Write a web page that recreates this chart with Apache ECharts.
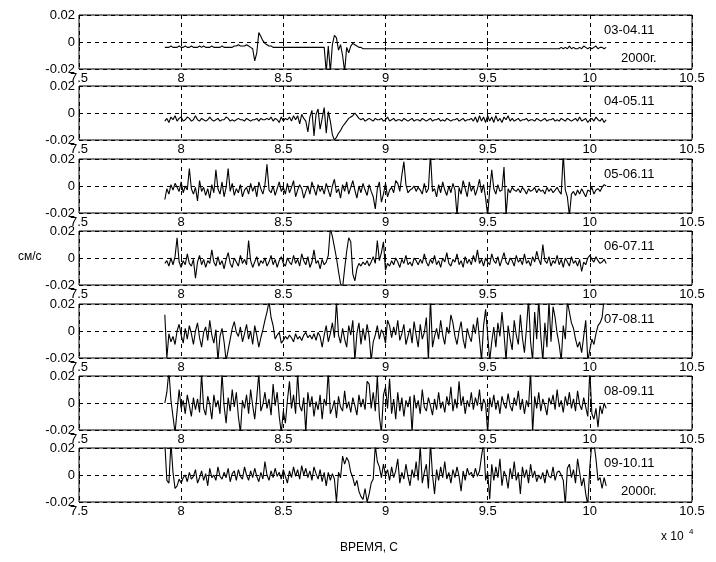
<!DOCTYPE html>
<html>
<head>
<meta charset="utf-8">
<script src="https://cdn.jsdelivr.net/npm/echarts@6/dist/echarts.min.js"></script>
<style>
html,body{margin:0;padding:0;background:#fff;}
#chart{width:716px;height:562px;}
</style>
</head>
<body>
<div id="chart"></div>
<script>
// Sampling: time in seconds, first sample and step
const T0 = 79200;
const DT = 100;

// Tick labels (x axis values in seconds, shown in units of 10^4)
const xTicks = [75000, 80000, 85000, 90000, 95000, 100000, 105000];
const yTicks = [-0.02, 0, 0.02];

// Panel captions
const panelNames = ['03-04.11', '04-05.11', '05-06.11', '06-07.11', '07-08.11', '08-09.11', '09-10.11'];
const yearLabel = '2000г.';

// Velocity series, in units of 10^-3 cm/s
const p1 = [
-4,-4,-4,-3,-4,-4,-4,-3,-4,-4,
-3,-4,-4,-3,-4,-4,-4,-3,-4,-3,
-4,-4,-4,-3,-4,-4,-4,-4,-3,-4,
-4,-4,-4,-4,-3,-3,-2,-3,-3,-3,
-2,-3,-4,-5,-14,-8,7,4,1,-1,
-2,-3,-3,-4,-4,-4,-4,-4,-4,-4,
-4,-4,-4,-4,-4,-4,-4,-4,-4,-4,
-4,-4,-4,-4,-4,-4,-4,-4,-4,-22,
-3,-22,-2,5,3,-6,-2,-10,-22,-4,
-8,-3,-1,-2,-3,-4,-4,-5,-5,-5,
-5,-5,-5,-5,-5,-5,-5,-5,-5,-5,
-5,-5,-5,-5,-5,-5,-5,-5,-5,-5,
-5,-5,-5,-5,-5,-5,-5,-5,-5,-5,
-5,-5,-5,-5,-5,-5,-5,-5,-5,-5,
-5,-5,-5,-5,-5,-5,-5,-5,-5,-5,
-5,-5,-5,-5,-5,-5,-5,-5,-5,-5,
-5,-5,-5,-5,-5,-5,-5,-5,-5,-5,
-5,-5,-5,-5,-5,-5,-5,-5,-5,-5,
-5,-5,-5,-5,-5,-5,-5,-5,-5,-5,
-5,-5,-5,-5,-4,-5,-4,-5,-3,-5,
-4,-5,-5,-4,-5,-3,-4,-5,-4,-5,
-4,-3,-5,-4,-4,-5,-4
];
const p2 = [
-6,-4,-7,-3,-5,-2,-6,-4,-3,-6,
-5,-3,-4,-6,-5,-2,-5,-6,-4,-5,
-6,-5,-3,-5,-6,-5,-4,-6,-5,-5,
-3,-4,-6,-5,-6,-5,-4,-5,-5,-6,
-4,-5,-6,-5,-5,-4,-6,-4,-5,-5,
-4,-5,-3,-6,-4,-5,-7,-3,-6,-4,
-5,-3,-6,-2,-5,-2,-8,-1,-4,-6,
-14,-3,2,-17,-1,3,-12,-4,4,-15,
1,-6,-16,-20,-18,-15,-13,-10,-8,-6,
-4,-3,-2,0,-2,-4,-5,-4,-6,-5,
-4,-5,-6,-4,-5,-5,-4,-6,-5,-3,
-6,-5,-4,-6,-5,-5,-6,-4,-5,-6,
-5,-4,-6,-5,-5,-6,-4,-5,-6,-5,
-4,-6,-5,-5,-4,-6,-5,-6,-4,-5,
-6,-5,-5,-4,-6,-5,-4,-6,-5,-5,
-4,-6,-3,-7,-2,-6,-3,-7,-2,-6,
-3,-7,-2,-6,-4,-7,-3,-5,-2,-6,
-4,-6,-5,-4,-6,-5,-5,-4,-6,-5,
-5,-6,-4,-5,-6,-5,-4,-6,-5,-5,
-4,-6,-5,-6,-4,-5,-6,-4,-5,-6,
-5,-4,-6,-3,-6,-5,-4,-7,-5,-4,
-6,-3,-5,-6,-4,-7,-5
];
const p3 = [
-10,-2,-6,1,-3,2,-1,-4,3,-5,
0,-3,13,-2,-6,-1,-11,4,-4,-1,
-7,-2,-9,1,-5,12,-2,-6,3,-8,
-1,13,-4,2,-7,-2,-5,1,-8,-3,
-1,-6,2,-4,0,-8,3,-2,-6,1,
16,-3,-5,0,-7,-2,3,-4,-1,-6,
2,-5,-1,4,-8,-3,1,-2,-9,-4,
0,-6,3,-2,-7,1,-4,-1,-6,2,
-3,-8,0,5,-5,-2,-9,1,-4,3,
-6,-1,4,-3,-9,0,-5,2,-3,-7,
1,-4,-8,-17,-2,3,-12,-6,2,-8,
-3,-1,-5,4,2,-4,8,18,1,-5,
-3,-2,0,-4,-1,-3,-6,2,-5,-2,
24,-4,-2,-8,1,-5,3,-3,-7,0,
-5,2,-3,-22,-1,-6,4,-2,-8,3,
-4,0,-7,-2,5,-5,1,-9,-22,-3,
12,-2,-6,1,-4,-3,14,-22,-2,-5,
-1,-3,-4,-2,-5,-1,-3,-6,-2,-4,
-3,-1,-5,-2,-4,-3,-6,-1,-4,-2,
-5,-3,-1,-4,-6,24,-3,-8,-22,-6,
-4,-7,-3,-6,-2,-5,-8,-3,-4,-1,
-6,-3,-2,-4,-1,1,0
];
const p4 = [
-4,-2,-6,0,-5,1,15,-3,-7,-2,
-5,3,-4,-6,-1,-15,-3,2,-5,-1,
-7,-2,-4,6,-3,-6,1,-5,-2,-8,
-1,4,-4,-7,0,-3,-6,2,-4,-1,
-5,13,-2,-7,-3,1,-6,-2,-4,0,
-6,-3,2,-5,-1,-7,-2,1,-4,-6,
0,-3,-5,2,-4,-1,-6,3,-2,-5,
1,-7,-3,6,-4,-2,-8,-1,-5,-3,
2,22,16,8,0,-10,-19,-22,-8,5,
15,12,-12,-17,-8,-4,-6,-3,-5,-2,
-6,-3,1,-4,13,-2,4,12,-9,-4,
-6,-2,-5,0,-3,-7,-1,-4,2,-5,
-3,-6,0,-2,-5,-1,-4,3,-3,-6,
-1,-4,2,-5,-2,-7,0,-3,4,-4,
-6,-1,-3,3,-5,-2,-7,1,-4,-1,
-5,2,-3,6,-4,-1,-6,0,-3,-5,
3,-2,-4,1,-6,-1,4,-3,-5,0,
-2,-6,2,-3,-1,-5,3,-4,-2,-6,
1,-3,5,-1,-5,10,-2,-4,1,-6,
-2,-4,2,-5,-1,-7,0,-3,-6,1,
-4,-2,-6,-1,-10,-3,-5,0,2,-1,
-3,1,-2,-4,-3,-1,-4
];
const p5 = [
12,-20,-2,-8,-4,-10,0,5,-3,-9,
2,-6,4,-2,-10,0,6,-5,-12,-1,
3,-7,8,-3,-9,1,-22,-4,2,-8,
-22,-14,-6,2,7,-1,-4,3,-8,-2,
5,-6,0,-10,4,-3,-12,-5,1,8,
14,22,10,4,-6,-3,-1,-9,-7,-4,
-6,-3,-5,-8,-2,-6,-4,-7,-3,-1,
-5,-3,-6,-2,-7,-1,-4,-12,-3,4,
-8,-2,6,-5,22,-3,-9,2,-6,-12,
4,-3,8,-22,-2,6,-10,2,-7,5,
-4,-22,-8,-3,4,-6,1,-2,-9,8,
4,-5,3,-3,8,-7,-2,5,-10,-4,
2,-9,7,-3,-12,5,-6,-1,10,-22,
24,-12,-4,2,-6,8,-3,-10,3,-2,
12,6,-4,-10,0,7,-6,-13,2,-4,
-8,5,-2,10,-6,-22,4,16,-3,-22,
-8,3,-12,6,-4,14,-2,-22,4,-6,
-14,8,-3,-10,12,-5,-16,2,24,-8,
-22,14,-6,24,-4,-22,6,-12,22,-8,
18,10,-2,-10,-22,4,-6,22,14,6,
2,-6,-12,-8,-16,-4,8,-22,-14,-6,
-10,-2,4,6,10,24,22
];
const p6 = [
0,8,24,2,-10,-22,-6,10,-4,2,
-8,6,-2,-10,4,-5,3,-7,22,-4,
-9,5,-1,-12,6,-3,2,-8,22,-2,
-15,4,-6,10,-3,8,-10,-22,2,-4,
6,-8,10,-2,-12,4,22,-6,-1,8,
-4,3,-9,14,-2,8,-10,-22,-6,-15,
2,16,-4,6,-8,22,-2,-6,4,-22,
8,-3,5,-10,1,-5,6,-12,3,-2,
24,-8,-4,2,-11,5,-3,-6,9,-4,
1,-7,4,-2,-9,6,-3,3,-5,16,
14,-4,8,-6,20,-10,-22,6,12,-4,
18,-8,3,-12,8,-6,4,-10,2,-3,
5,-22,6,-4,2,-8,10,-3,-6,4,
-2,-9,3,-5,8,-4,1,-7,5,-2,
12,-6,3,-4,16,-2,5,-8,2,-3,
8,-5,4,-2,10,-6,3,-1,-22,4,
-3,6,-5,2,-8,5,-1,-4,7,-2,
-6,4,-2,9,-5,3,-8,2,-3,24,
-22,5,-4,8,-6,3,-2,-9,4,-1,
6,-5,10,-3,2,-7,5,-2,8,-4,
3,-6,9,-1,-5,4,-3,-10,24,-8,
-12,-4,-18,-2,-8,0,-4
];
const p7 = [
24,-4,-6,24,2,-10,-8,-3,-6,-2,
0,-5,2,-3,-1,4,-6,-2,3,-4,
1,-8,5,-2,0,-4,6,-1,-3,2,
-2,5,-5,1,3,-4,4,-1,-3,6,
0,-4,3,-2,5,-1,-5,2,-3,10,
0,-4,3,-2,5,-1,2,-3,4,-1,
-6,3,-2,6,-1,4,-3,7,0,5,
-2,3,-4,6,1,-3,4,-5,2,-8,
2,-4,1,-3,-20,2,-2,14,8,13,
10,2,-2,-8,-4,-12,-16,-18,-10,-20,
-14,-6,-3,22,10,6,-2,8,0,4,
-4,6,-2,3,12,-6,2,-3,8,-1,
-8,4,-2,10,-4,22,-6,2,8,-10,
24,0,-14,4,-4,6,-2,10,-3,2,
-6,4,-2,6,-1,-12,3,-4,5,0,
2,-2,5,-1,3,14,24,-4,2,-18,
8,-4,6,-2,12,-8,3,-1,-10,5,
-3,10,-4,2,-14,6,-2,4,-6,8,
-2,3,-5,0,-3,2,-6,4,-1,-2,
6,-4,2,3,0,-4,-22,5,8,-2,
4,-6,12,2,-8,-2,-14,-22,6,24,
24,12,-4,-2,-10,-2,-8
];

const panels = [p1, p2, p3, p4, p5, p6, p7];
const times = p1.map((_, i) => T0 + i * DT);

// ---------------- layout ----------------
const FONT = '"Liberation Sans", Arial, sans-serif';
const tops = [15, 86, 159, 231, 304, 376, 448];
const LEFT = 79, WIDTH = 613, HEIGHT = 54;

const grids = [], xAxes = [], yAxes = [], series = [], graphics = [];
const xMin = xTicks[0], xMax = xTicks[xTicks.length - 1], xInt = xTicks[1] - xTicks[0];
const yMin = yTicks[0] * 1000, yMax = yTicks[2] * 1000, yInt = (yTicks[1] - yTicks[0]) * 1000;
const dash = { color: '#000', width: 1, type: [4, 4] };

panels.forEach((p, i) => {
  grids.push({ left: LEFT, top: tops[i], width: WIDTH, height: HEIGHT, show: true,
               borderColor: '#000', borderWidth: 1, backgroundColor: 'transparent' });
});
panels.forEach((p, i) => {
  xAxes.push({
    gridIndex: i, type: 'value', min: xMin, max: xMax, interval: xInt, position: 'bottom',
    axisLine: { show: false },
    axisTick: { show: true, inside: true, length: 4, lineStyle: { color: '#000' } },
    axisLabel: { color: '#000', fontSize: 13, fontFamily: FONT, margin: 3,
                 formatter: v => String(v / 10000) },
    splitLine: { show: true, lineStyle: dash }
  });
  yAxes.push({
    gridIndex: i, type: 'value', min: yMin, max: yMax, interval: yInt, position: 'left',
    axisLine: { show: false },
    axisTick: { show: true, inside: true, length: 4, lineStyle: { color: '#000' } },
    axisLabel: { color: '#000', fontSize: 13, fontFamily: FONT, margin: 4,
                 formatter: v => (v === 0 ? '0' : String(v / 1000)) },
    splitLine: { show: true, lineStyle: dash }
  });
});
panels.forEach((p, i) => {
  xAxes.push({
    gridIndex: i, type: 'value', min: xMin, max: xMax, interval: xInt, position: 'top',
    axisLine: { show: false },
    axisTick: { show: true, inside: true, length: 4, lineStyle: { color: '#000' } },
    axisLabel: { show: false }, splitLine: { show: false }
  });
  yAxes.push({
    gridIndex: i, type: 'value', min: yMin, max: yMax, interval: yInt, position: 'right',
    axisLine: { show: false },
    axisTick: { show: true, inside: true, length: 4, lineStyle: { color: '#000' } },
    axisLabel: { show: false }, splitLine: { show: false }
  });
});
panels.forEach((p, i) => {
  series.push({
    type: 'line', xAxisIndex: i, yAxisIndex: i,
    data: times.map((t, k) => [t, p[k]]),
    showSymbol: false, symbol: 'none', clip: true, silent: true,
    lineStyle: { color: '#000', width: 1.1 }
  });
  graphics.push({ type: 'text', left: 604, top: tops[i] + 9,
    style: { text: panelNames[i], fill: '#000', font: '13px ' + FONT, backgroundColor: '#fff' } });
});
[0, 6].forEach(i => {
  graphics.push({ type: 'text', left: 621, top: tops[i] + 37,
    style: { text: yearLabel, fill: '#000', font: '13px ' + FONT, backgroundColor: '#fff' } });
});
graphics.push({ type: 'text', left: 18, top: 251, style: { text: 'см/с', fill: '#000', font: '12px ' + FONT } });
graphics.push({ type: 'text', left: 340, top: 542, style: { text: 'ВРЕМЯ, С', fill: '#000', font: '12px ' + FONT } });
graphics.push({ type: 'text', left: 661, top: 531, style: { text: 'x 10', fill: '#000', font: '12px ' + FONT } });
graphics.push({ type: 'text', left: 689, top: 528, style: { text: '4', fill: '#000', font: '8px ' + FONT } });

const chart = echarts.init(document.getElementById('chart'), null, { renderer: 'canvas' });
chart.setOption({
  animation: false,
  backgroundColor: '#fff',
  grid: grids, xAxis: xAxes, yAxis: yAxes, series: series,
  graphic: graphics
});
</script>
</body>
</html>
